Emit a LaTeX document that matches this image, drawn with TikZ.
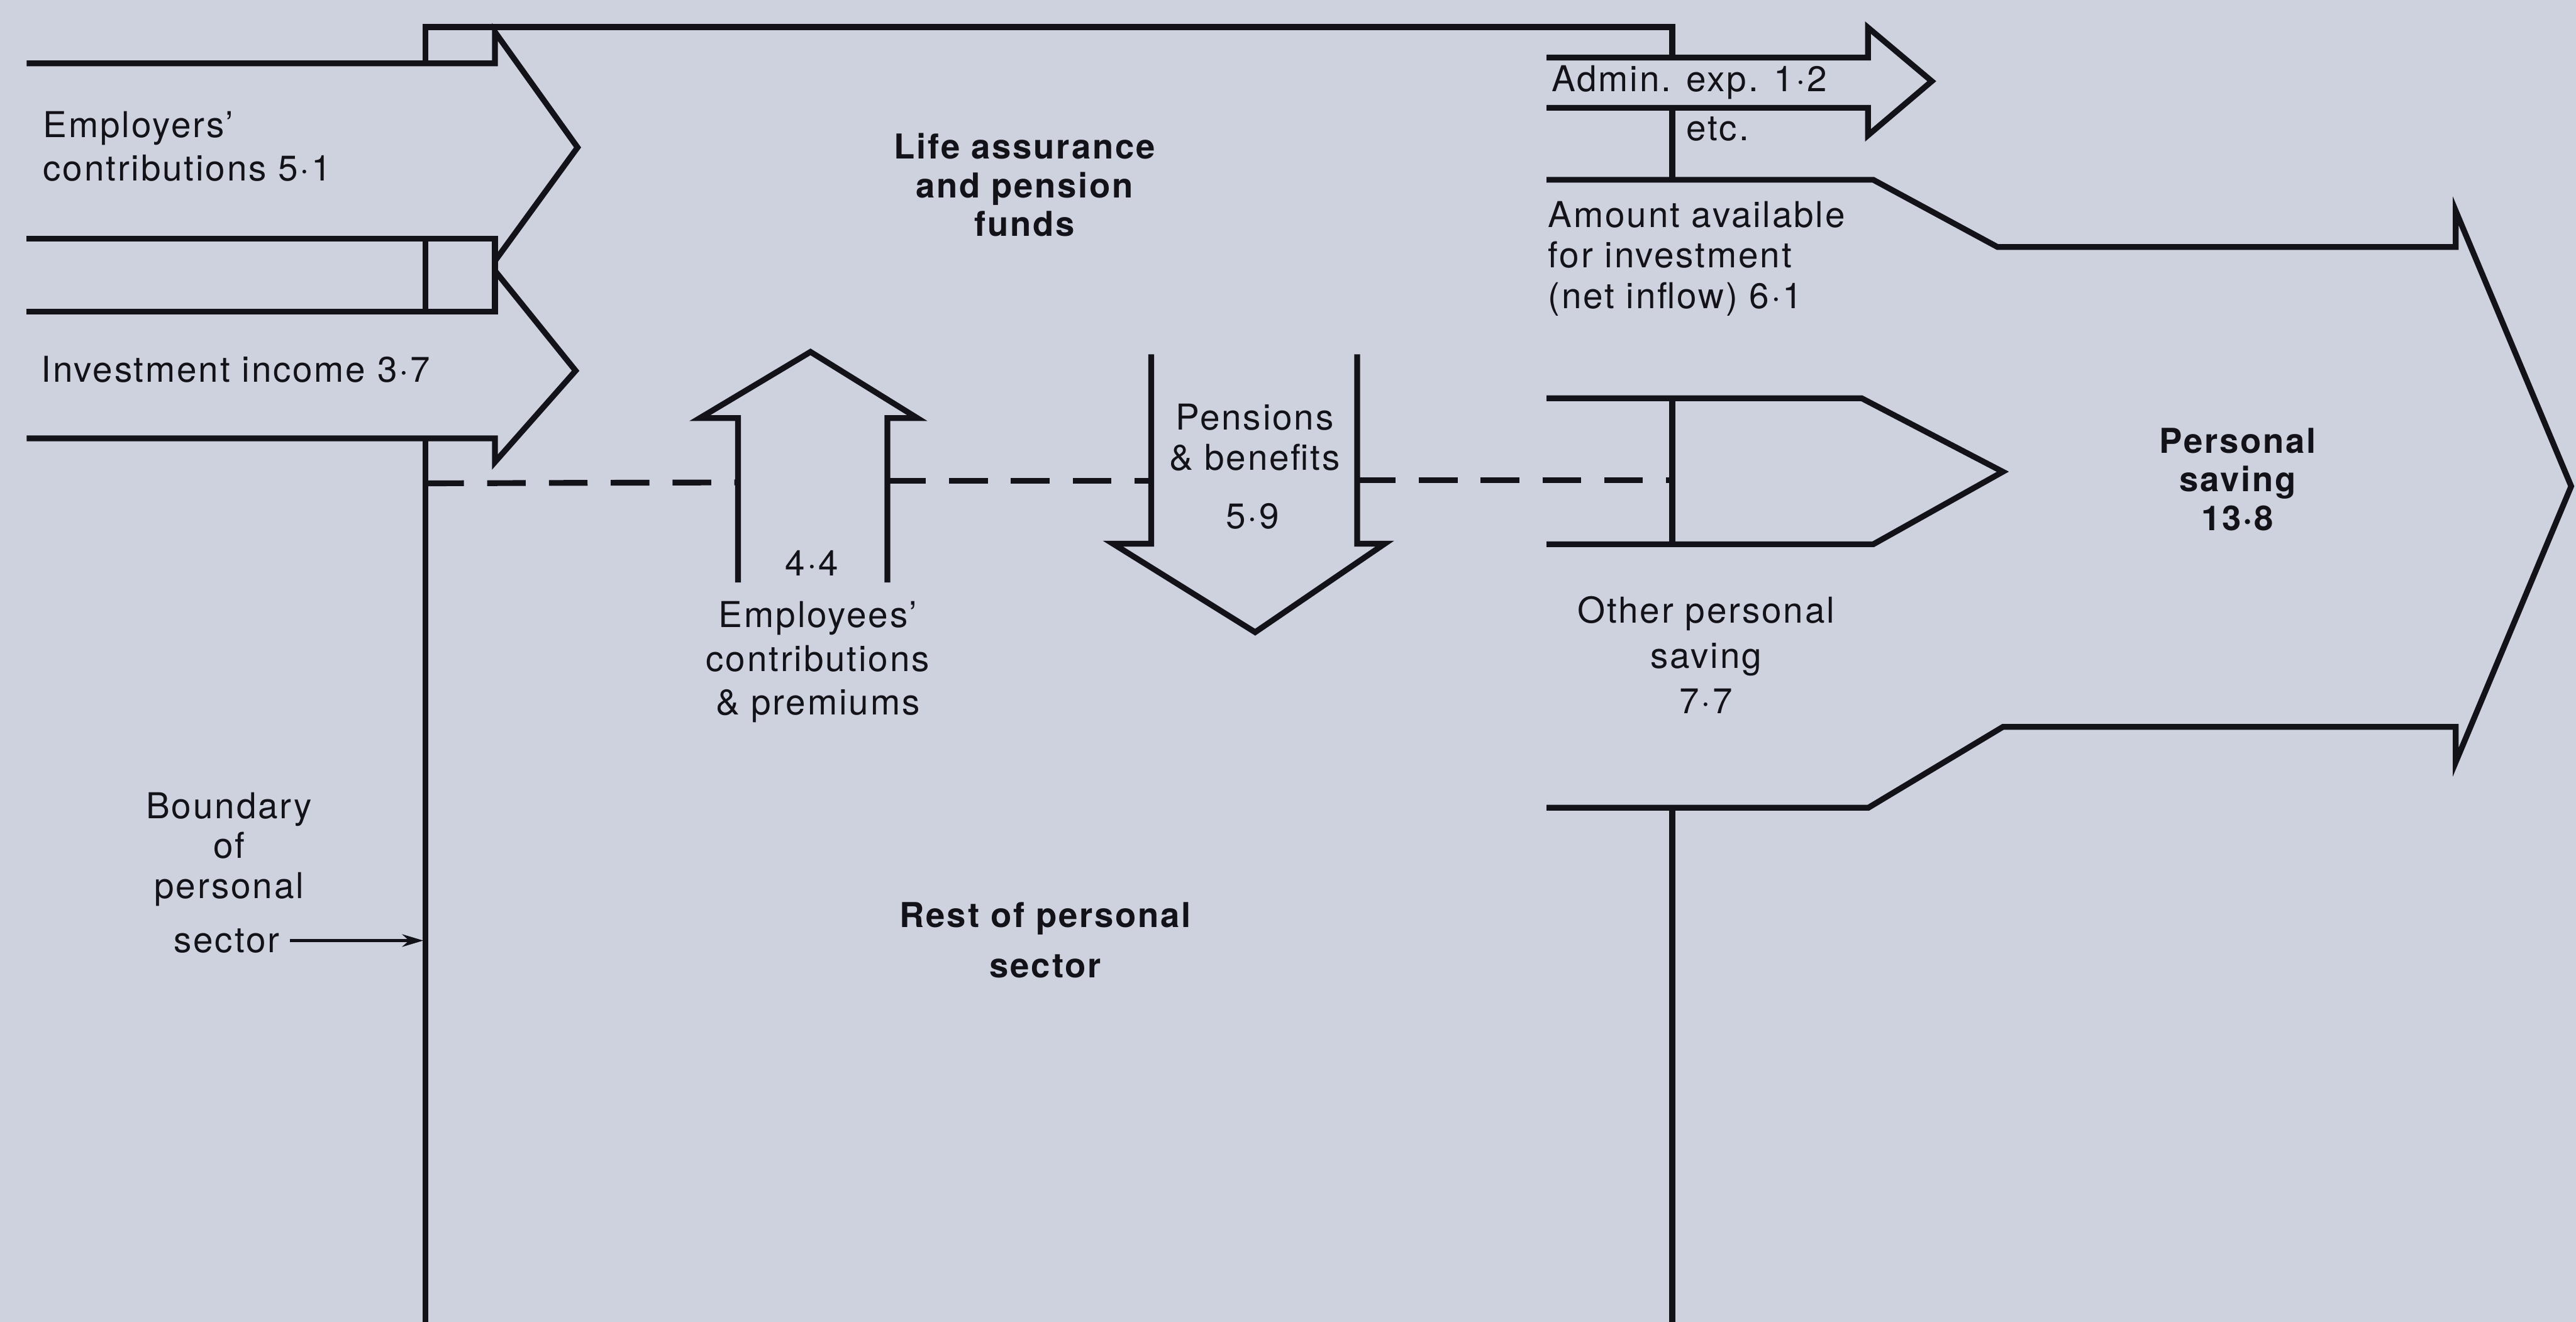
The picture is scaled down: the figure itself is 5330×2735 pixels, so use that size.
\documentclass[tikz,border=0pt]{standalone}
\usepackage{fontspec}
\setmainfont[LetterSpace=5]{TeX Gyre Heros}
\usetikzlibrary{arrows.meta}
\definecolor{paper}{RGB}{205,210,222}
\definecolor{ink}{RGB}{18,18,24}
\begin{document}
\begin{tikzpicture}[x=0.005cm,y=-0.005cm,
  flow/.style={draw=ink,line width=1.7pt,line join=miter},
  dashline/.style={draw=ink,line width=1.7pt,dash pattern=on 0.4cm off 0.24cm},
  lab/.style={text=ink,inner sep=0pt,font=\fontsize{10.5}{12.9}\selectfont},
  ttl/.style={text=ink,inner sep=0pt,font=\fontsize{10.1}{11.4}\selectfont\bfseries},
  pointer/.style={draw=ink,line width=0.8pt,-{Stealth[length=0.22cm,width=0.13cm]}}
]
\fill[paper] (0,0) rectangle (5330,2735);
\useasboundingbox (0,0) rectangle (5330,2735);

% ---- funds box outline and boundary of personal sector ----
\draw[flow] (880,131) -- (880,56) -- (3460,56) -- (3460,119);
\draw[flow] (880,494) -- (880,645);
\draw[flow] (880,907) -- (880,2735);
\draw[flow] (3460,223) -- (3460,372);
\draw[flow] (3460,824) -- (3460,1126);
\draw[flow] (3460,1671) -- (3460,2735);

% ---- inflow arrows ----
\draw[flow] (55,131) -- (1024,131) -- (1024,66) -- (1195,305) -- (1024,540);
\draw[flow] (55,494) -- (1024,494) -- (1024,645) -- (55,645);
\draw[flow] (1024,560) -- (1191,767) -- (1024,956) -- (1024,907) -- (55,907);

% ---- dashed line ----
\draw[dashline] (880,1000) -- (1527,998);
\draw[dashline] (1836,995) -- (2382,995);
\draw[dashline] (2808,993) -- (3460,993);

% ---- employees' contributions (up) ----
\draw[flow] (1527,1205) -- (1527,865) -- (1448,865) -- (1677,728) -- (1898,865) -- (1836,865) -- (1836,1205);

% ---- pensions & benefits (down) ----
\draw[flow] (2382,733) -- (2382,1125) -- (2303,1125) -- (2597,1308) -- (2865,1125) -- (2808,1125) -- (2808,733);

% ---- admin expenses ----
\draw[flow] (3200,119) -- (3865,119) -- (3865,57) -- (3997,168) -- (3865,280) -- (3865,223) -- (3200,223);

% ---- personal saving (big arrow) ----
\draw[flow] (3200,372) -- (3876,372) -- (4133,511) -- (5081,511) -- (5081,436) -- (5320,1006)
  -- (5081,1577) -- (5081,1504) -- (4144,1504) -- (3866,1671) -- (3200,1671);

% ---- other personal saving ----
\draw[flow] (3200,824) -- (3852,824) -- (4144,976) -- (3876,1126) -- (3200,1126);

% ---- labels ----
\node[lab,anchor=west,align=left] (emp) at (88,303) {Employers'\\contributions 5·1};
\node[lab,anchor=west] (inv) at (84,764) {Investment income 3·7};
\node[ttl,align=center] (laf) at (2120,383) {Life assurance\\and pension\\funds};
\node[lab] (v44) at (1680,1165) {4·4};
\node[lab,align=center] (emps) at (1692,1370) {Employees'\\contributions\\\& premiums};
\node[lab,align=center,font=\fontsize{10.5}{12}\selectfont] (pen) at (2596,905) {Pensions\\\& benefits};
\node[lab] (v59) at (2592,1068) {5·9};
\node[lab,anchor=west] (adm) at (3209,171) {Admin. exp. 1·2};
\node[lab,anchor=west] (etc) at (3488,267) {etc.};
\node[lab,anchor=west,align=left,font=\fontsize{10.5}{12}\selectfont] (amt) at (3202,535) {Amount available\\for investment\\(net inflow) 6·1};
\node[lab,align=center,font=\fontsize{10.5}{13.4}\selectfont] (oth) at (3530,1355) {Other personal\\saving\\7·7};
\node[ttl,align=center] (ps) at (4630,992) {Personal\\saving\\13·8};
\node[lab,align=center,font=\fontsize{10.5}{11.8}\selectfont] (bnd) at (474,1757) {Boundary\\of\\personal};
\node[lab] (bsec) at (469,1946) {sector};
\node[ttl,align=center,font=\fontsize{10.1}{14.7}\selectfont\bfseries] (rest) at (2163,1945) {Rest of personal\\sector};

\coordinate (bline) at (876,1946);
\draw[pointer] ([xshift=0.1cm]bsec.east) -- (bline);
\end{tikzpicture}
\end{document}
